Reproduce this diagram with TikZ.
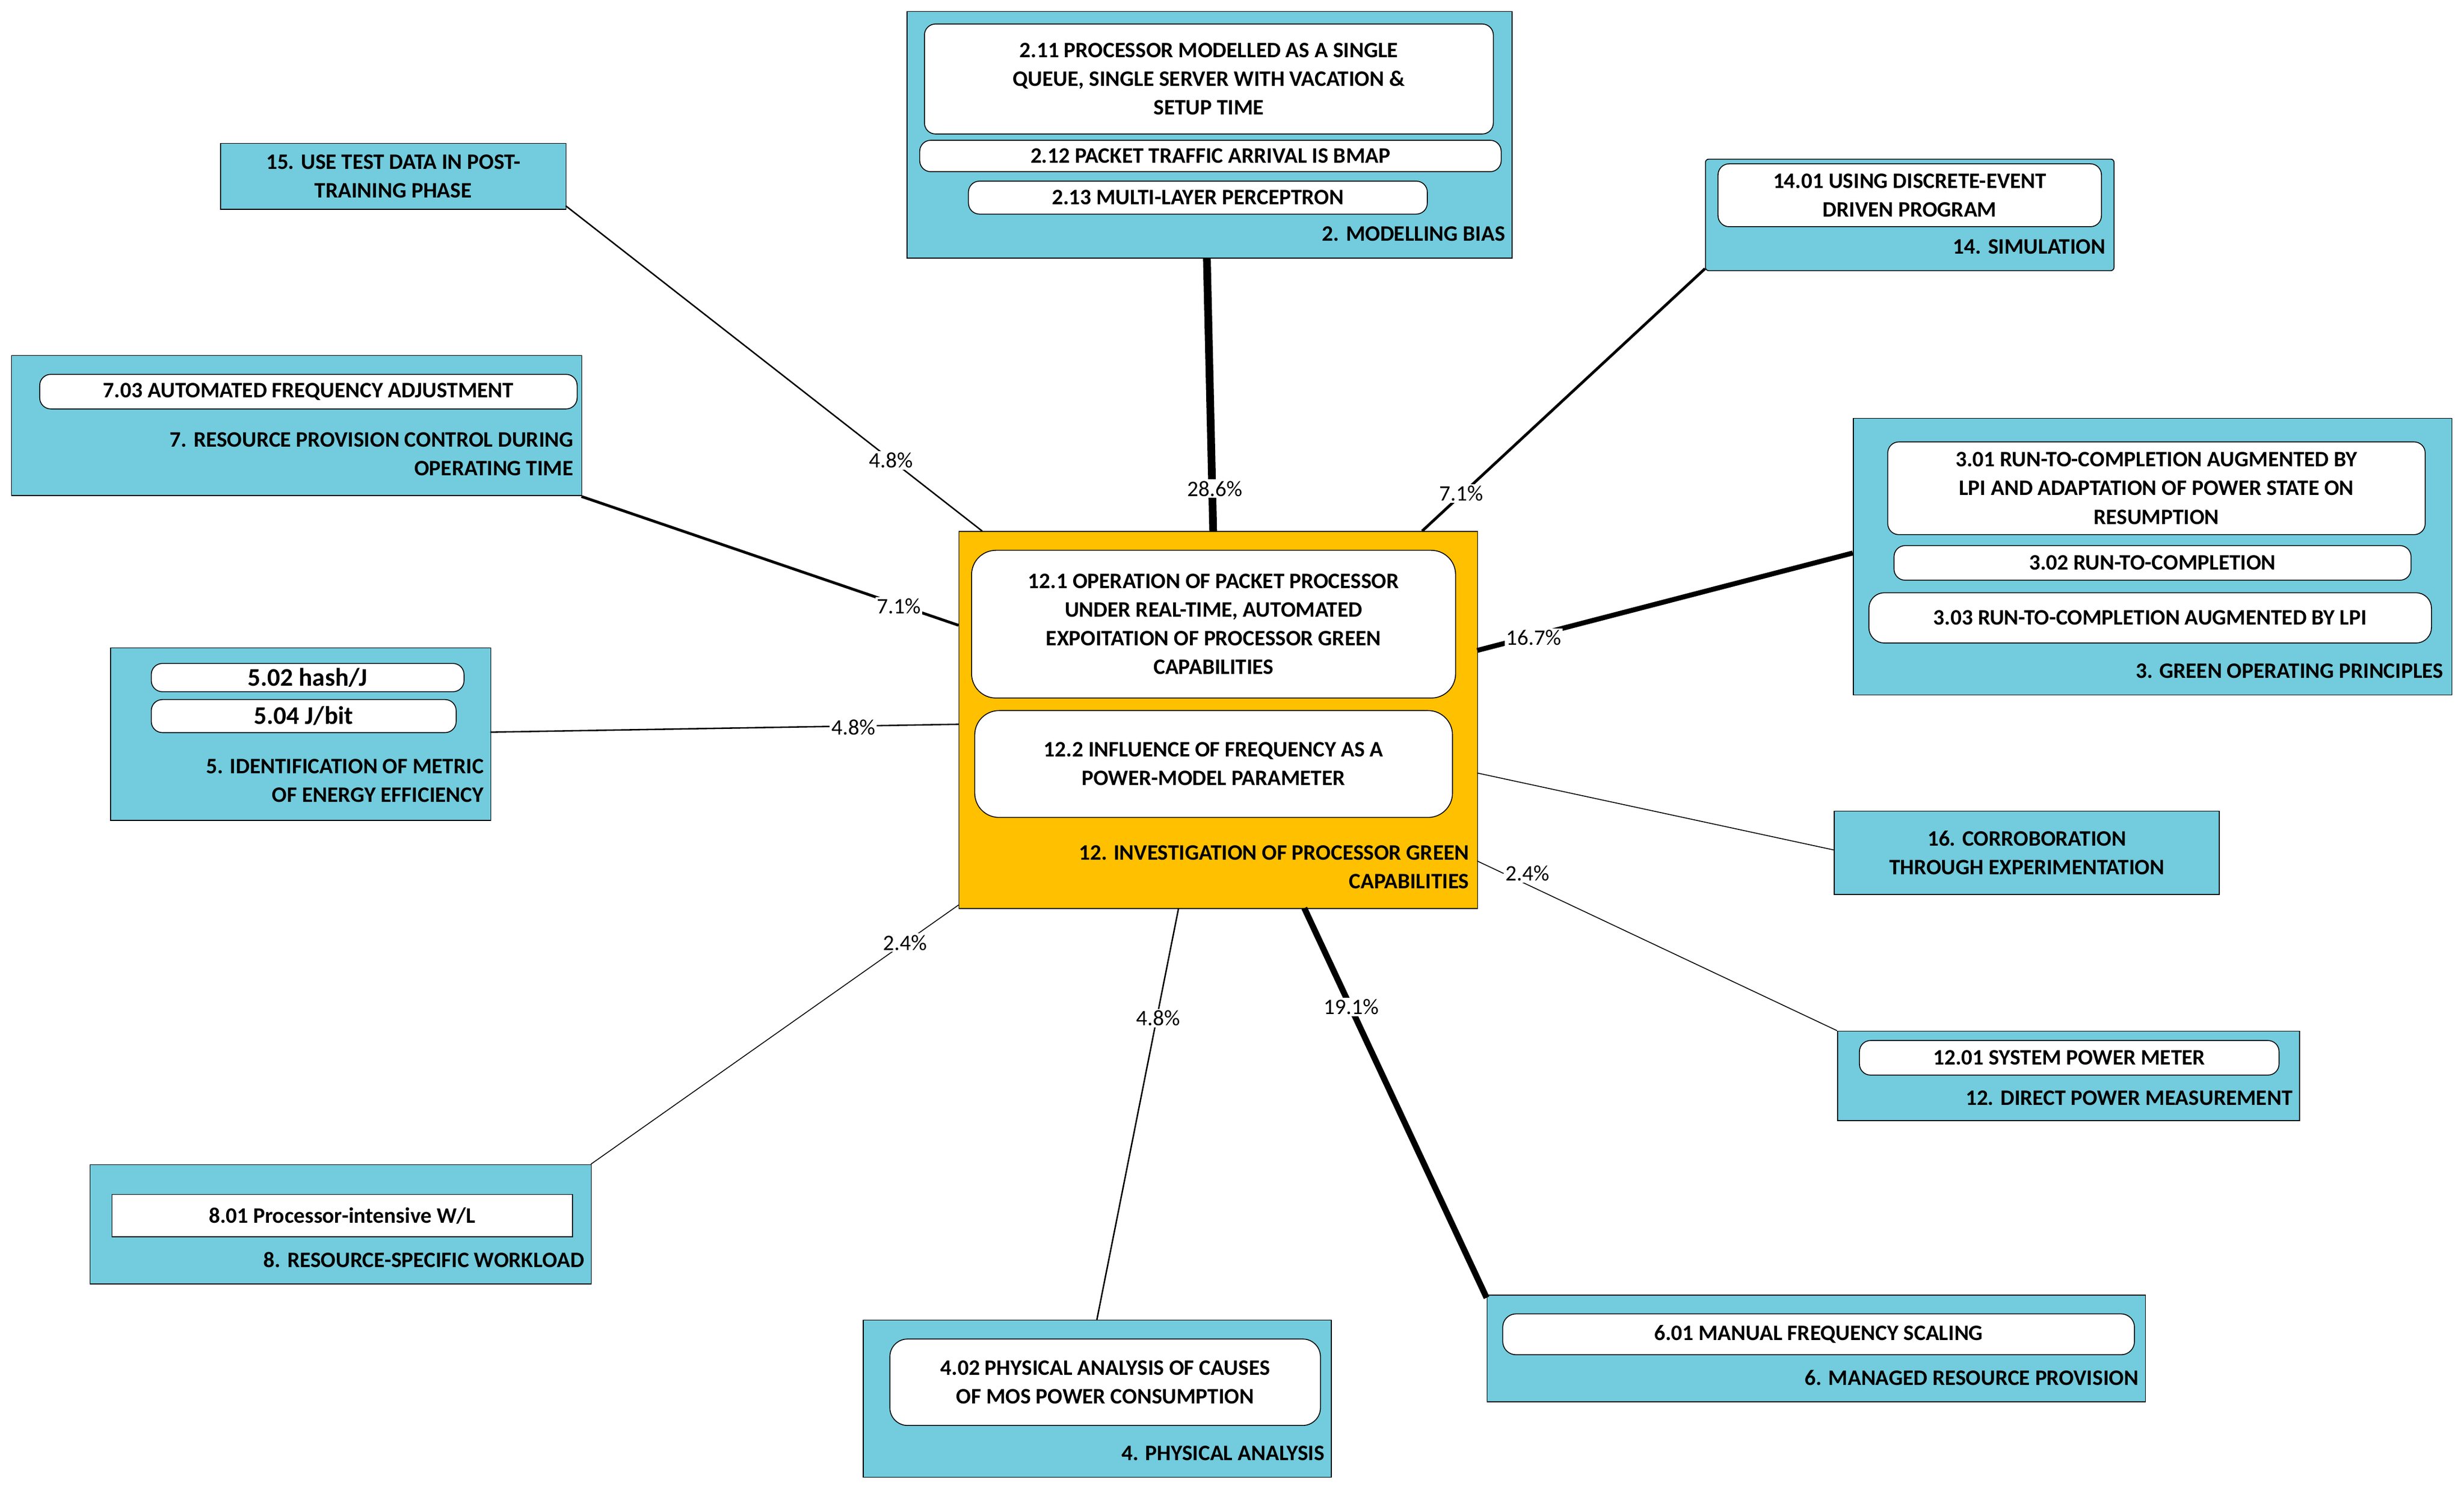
\documentclass[tikz,border=0pt]{standalone}
\usepackage{fontspec}
\setmainfont{Carlito}
\definecolor{cyanbox}{HTML}{72CCDD}
\definecolor{orangebox}{HTML}{FFC000}
\begin{document}
\begin{tikzpicture}[x=0.05cm,y=-0.05cm,
 lab/.style={font=\fontsize{20}{26}\selectfont\bfseries,align=center,inner sep=0},
 rlab/.style={font=\fontsize{20}{26}\selectfont\bfseries,align=right,inner sep=0,anchor=east},
 pct/.style={font=\fontsize{20}{24}\selectfont,fill=white,inner sep=1.5pt},
 ed/.style={draw=black}]
\useasboundingbox (0,0) rectangle (1568,949);
\newcommand\bx[6]{\node[draw=black,line width=0.8pt,#6,minimum width={(#4-#2)*0.05cm},minimum height={(#5-#3)*0.05cm},inner sep=0,anchor=north west] (#1) at (#2,#3) {};}
\tikzset{blue/.style={fill=cyanbox},org/.style={fill=orangebox},wr/.style={fill=white,rounded corners=10pt},ws/.style={fill=white}}
% center
\bx{c}{610}{338}{940}{578}{org}
\bx{c1}{618}{350}{926}{444}{wr,rounded corners=22pt}
\bx{c2}{620}{452}{924}{520}{wr,rounded corners=22pt}
\node[lab] at (c1.center) {12.1 OPERATION OF PACKET PROCESSOR\\UNDER REAL-TIME, AUTOMATED\\EXPOITATION OF PROCESSOR GREEN\\CAPABILITIES};
\node[lab] at (c2.center) {12.2 INFLUENCE OF FREQUENCY AS A\\POWER-MODEL PARAMETER};
\node[rlab] at (935,552) {12. INVESTIGATION OF PROCESSOR GREEN\\CAPABILITIES};
% box 2
\bx{b2}{577}{7}{962}{164}{blue}
\bx{b211}{588}{15}{950}{85}{wr}
\bx{b212}{585}{89}{955}{109}{wr}
\bx{b213}{616}{115}{908}{136}{wr}
\node[lab] at (b211.center) {2.11 PROCESSOR MODELLED AS A SINGLE\\QUEUE, SINGLE SERVER WITH VACATION \&\\SETUP TIME};
\node[lab] at (b212.center) {2.12 PACKET TRAFFIC ARRIVAL IS BMAP};
\node[lab] at (b213.center) {2.13 MULTI-LAYER PERCEPTRON};
\node[rlab] at (958,149) {2. MODELLING BIAS};
% box 15
\bx{b15}{140}{91}{360}{133}{blue}
\node[lab] at (b15.center) {15. USE TEST DATA IN POST-\\TRAINING PHASE};
% box 14
\bx{b14}{1085}{101}{1345}{172}{blue,rounded corners=3pt}
\bx{b1401}{1093}{104}{1337}{144}{wr}
\node[lab] at (b1401.center) {14.01 USING DISCRETE-EVENT\\DRIVEN PROGRAM};
\node[rlab] at (1340,157) {14. SIMULATION};
% box 7
\bx{b7}{7}{226}{370}{315}{blue}
\bx{b703}{25}{238}{367}{260}{wr}
\node[lab] at (b703.center) {7.03 AUTOMATED FREQUENCY ADJUSTMENT};
\node[rlab] at (365,289) {7. RESOURCE PROVISION CONTROL DURING\\OPERATING TIME};
% box 3
\bx{b3}{1179}{266}{1560}{442}{blue}
\bx{b301}{1201}{281}{1543}{340}{wr}
\bx{b302}{1205}{347}{1534}{369}{wr}
\bx{b303}{1189}{377}{1547}{409}{wr,rounded corners=14pt}
\node[lab] at (b301.center) {3.01 RUN-TO-COMPLETION AUGMENTED BY\\LPI AND ADAPTATION OF POWER STATE ON\\RESUMPTION};
\node[lab] at (b302.center) {3.02 RUN-TO-COMPLETION};
\node[lab] at (b303.center) {3.03 RUN-TO-COMPLETION AUGMENTED BY LPI};
\node[rlab] at (1555,427) {3. GREEN OPERATING PRINCIPLES};
% box 5
\bx{b5}{70}{412}{312}{522}{blue}
\bx{b502}{96}{422}{295}{440}{wr}
\bx{b504}{96}{445}{290}{466}{wr}
\node[lab,font=\fontsize{23}{26}\selectfont\bfseries] at (b502.center) {5.02 hash/J};
\node[lab,font=\fontsize{23}{26}\selectfont\bfseries] at (b504.center) {5.04 J/bit};
\node[rlab] at (308,497) {5. IDENTIFICATION OF METRIC\\OF ENERGY EFFICIENCY};
% box 16
\bx{b16}{1167}{516}{1412}{569}{blue}
\node[lab] at (b16.center) {16. CORROBORATION\\THROUGH EXPERIMENTATION};
% box 12 direct
\bx{b12}{1169}{656}{1463}{713}{blue}
\bx{b1201}{1183}{662}{1450}{684}{wr}
\node[lab] at (b1201.center) {12.01 SYSTEM POWER METER};
\node[rlab] at (1459,699) {12. DIRECT POWER MEASUREMENT};
% box 8
\bx{b8}{57}{741}{376}{817}{blue}
\bx{b801}{71}{760}{364}{787}{ws}
\node[lab] at (b801.center) {8.01 Processor-intensive W/L};
\node[rlab] at (372,802) {8. RESOURCE-SPECIFIC WORKLOAD};
% box 4
\bx{b4}{549}{840}{847}{940}{blue}
\bx{b402}{566}{852}{840}{907}{wr,rounded corners=16pt}
\node[lab] at (b402.center) {4.02 PHYSICAL ANALYSIS OF CAUSES\\OF MOS POWER CONSUMPTION};
\node[rlab] at (843,925) {4. PHYSICAL ANALYSIS};
% box 6
\bx{b6}{946}{824}{1365}{892}{blue}
\bx{b601}{956}{836}{1358}{862}{wr,rounded corners=12pt}
\node[lab] at (b601.center) {6.01 MANUAL FREQUENCY SCALING};
\node[rlab] at (1361,877) {6. MANAGED RESOURCE PROVISION};
% connector endpoints
\coordinate (e15) at (625,338); \coordinate (e2) at (772,338); \coordinate (e14) at (905,338);
\coordinate (e7) at (610,398); \coordinate (e3) at (940,414); \coordinate (e5) at (610,461);
\coordinate (e16) at (940,492); \coordinate (e12) at (940,548); \coordinate (e8) at (610,576);
\coordinate (e4) at (750,578); \coordinate (e6) at (830,578);
\coordinate (t15) at (360,131); \coordinate (t2) at (768,164); \coordinate (t14) at (1085,171);
\coordinate (t7) at (370,316); \coordinate (t3) at (1179,352); \coordinate (t5) at (312,466);
\coordinate (t16) at (1167,541); \coordinate (t12) at (1169,656); \coordinate (t8) at (376,741);
\coordinate (t4) at (698,840); \coordinate (t6) at (946,826);
\begin{scope}[on background layer/.try]
\end{scope}
\draw[ed,line width=1.3pt] (e15) -- (t15);
\draw[ed,line width=7pt] (e2) -- (t2);
\draw[ed,line width=2.5pt] (e14) -- (t14);
\draw[ed,line width=2.5pt] (e7) -- (t7);
\draw[ed,line width=4.5pt] (e3) -- (t3);
\draw[ed,line width=1.3pt] (e5) -- (t5);
\draw[ed,line width=0.8pt] (e16) -- (t16);
\draw[ed,line width=0.8pt] (e12) -- (t12);
\draw[ed,line width=0.8pt] (e8) -- (t8);
\draw[ed,line width=1.3pt] (e4) -- (t4);
\draw[ed,line width=5.5pt] (e6) -- (t6);
\node[pct] at (567,293) {4.8\%};
\node[pct] at (773,311) {28.6\%};
\node[pct] at (930,314) {7.1\%};
\node[pct] at (572,386) {7.1\%};
\node[pct] at (976,406) {16.7\%};
\node[pct] at (543,463) {4.8\%};
\node[pct] at (972,556) {2.4\%};
\node[pct] at (576,600) {2.4\%};
\node[pct] at (737,648) {4.8\%};
\node[pct] at (860,641) {19.1\%};
\end{tikzpicture}
\end{document}
